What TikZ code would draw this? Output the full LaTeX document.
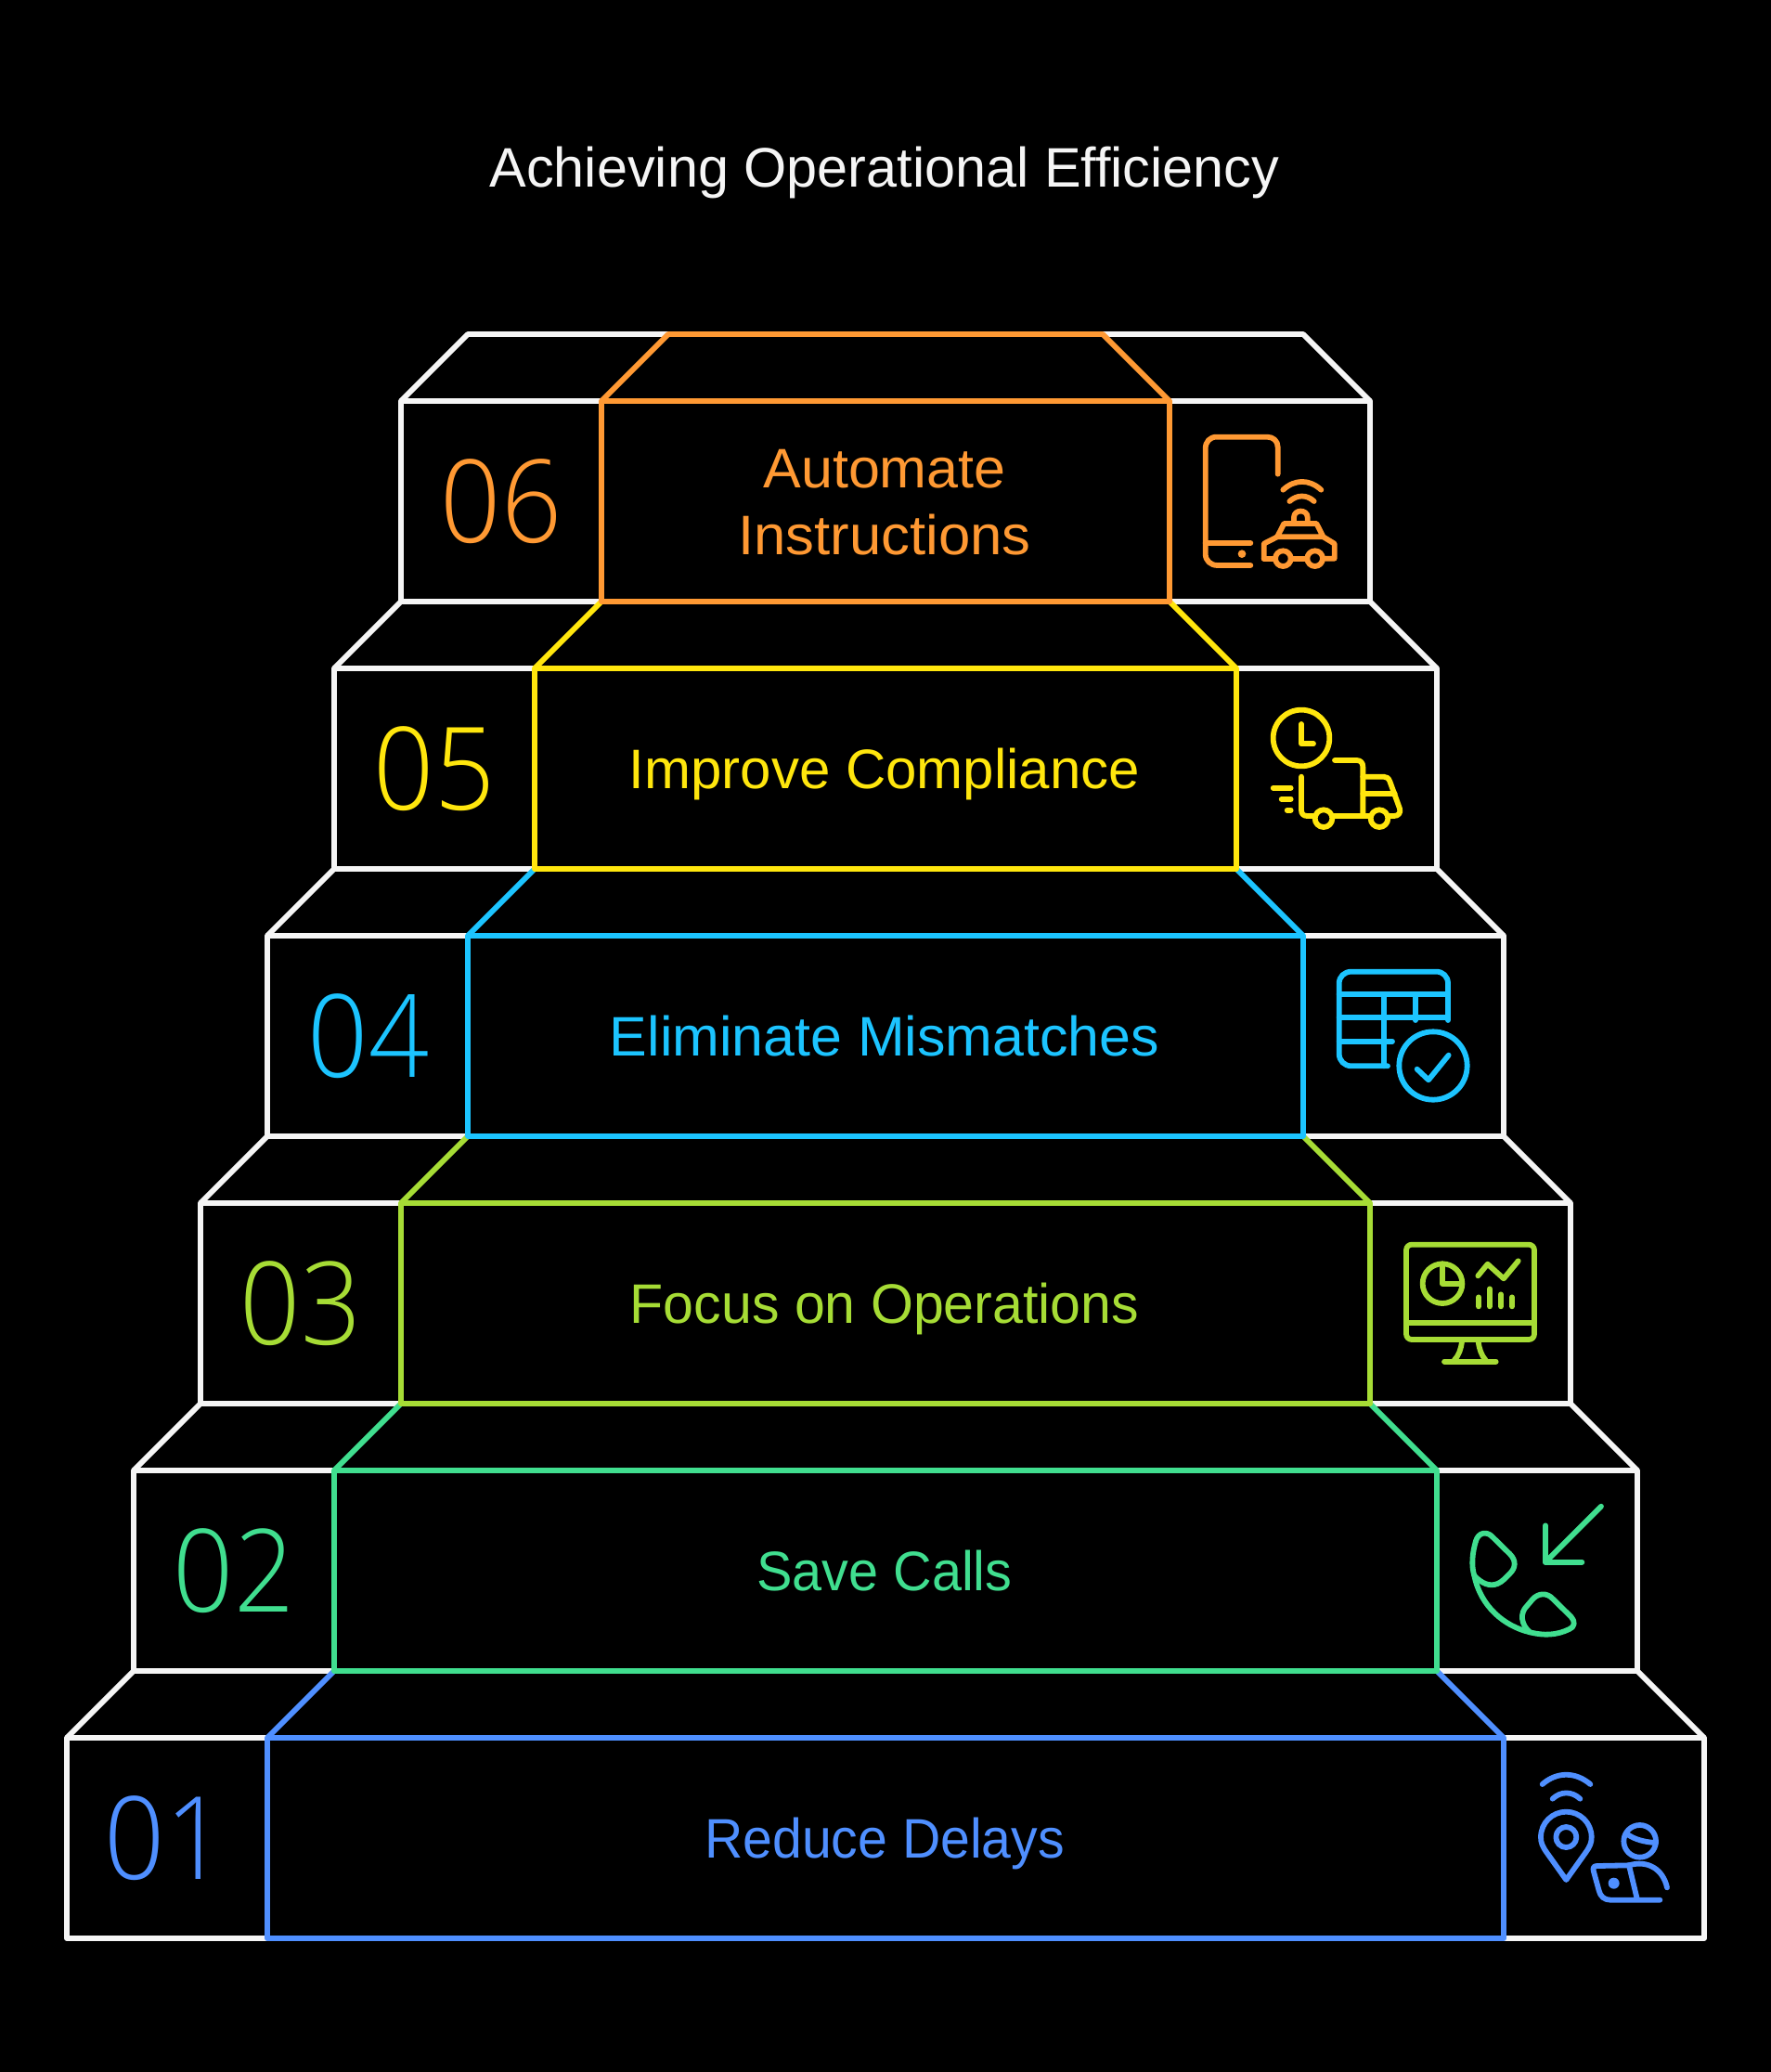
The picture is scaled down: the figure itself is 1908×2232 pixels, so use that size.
\documentclass[tikz,border=0pt]{standalone}
\usepackage{graphicx}
\usepackage{fontspec}
\setmainfont{Liberation Sans}
\newfontfamily\numfont{Open Sans Light}
\definecolor{cone}{HTML}{4F8FFF}
\definecolor{ctwo}{HTML}{40DE8F}
\definecolor{cthree}{HTML}{A6DC35}
\definecolor{cfour}{HTML}{1CC4FF}
\definecolor{cfive}{HTML}{FFE60D}
\definecolor{csix}{HTML}{FF9933}
\definecolor{offwhite}{HTML}{F5F5F5}
\newcommand{\wfit}[2]{\scalebox{#1}[1]{#2}}
\tikzset{
  frame/.style={line width=5.8pt,line join=round},
  iconline/.style={line width=5.8pt,line cap=round,line join=round},
  numlabel/.style={font=\numfont\fontsize{124}{124}\selectfont,anchor=base,inner sep=0pt},
  steplabel/.style={font=\fontsize{60}{72}\selectfont,anchor=base,inner sep=0pt},
  zoomed/.style={x=0.33333pt,y=-0.33333pt,shift={#1}},
}
\begin{document}
\begin{tikzpicture}[x=1pt,y=-1pt]
\fill[black] (0,0) rectangle (1908,2232);
\useasboundingbox (0,0) rectangle (1908,2232);
% white outer boxes
\foreach \k/\t in {1/1872,2/1584,3/1296,4/1008,5/720,6/432}{
  \pgfmathsetmacro{\ho}{882-72*(\k-1)}
  \draw[frame,offwhite] (954-\ho,\t) rectangle (954+\ho,\t+216);
  \draw[frame,offwhite] (954-\ho,\t) -- (954-\ho+72,\t-72) -- (954+\ho-72,\t-72) -- (954+\ho,\t);
}
% coloured inner boxes
\foreach \k/\t/\c in {1/1872/cone,2/1584/ctwo,3/1296/cthree,4/1008/cfour,5/720/cfive,6/432/csix}{
  \pgfmathsetmacro{\hi}{666-72*(\k-1)}
  \draw[frame,\c] (954-\hi,\t) rectangle (954+\hi,\t+216);
  \draw[frame,\c] (954-\hi,\t) -- (954-\hi+72,\t-72) -- (954+\hi-72,\t-72) -- (954+\hi,\t);
}
% title
\node[steplabel,text=offwhite] (title) at (953,201) {\wfit{0.99}{Achieving Operational Efficiency}};
% numbers
\node[numlabel,text=cone] (n1) at (178,2024) {\wfit{0.92}{01}};
\node[numlabel,text=ctwo] (n2) at (252,1736) {\wfit{0.92}{02}};
\node[numlabel,text=cthree] (n3) at (324,1448) {\wfit{0.92}{03}};
\node[numlabel,text=cfour] (n4) at (397,1160) {\wfit{0.92}{04}};
\node[numlabel,text=cfive] (n5) at (468,872) {\wfit{0.92}{05}};
\node[numlabel,text=csix] (n6) at (540,584) {\wfit{0.92}{06}};
% labels
\node[steplabel,text=cone] (l1) at (953,2001) {\wfit{0.953}{Reduce Delays}};
\node[steplabel,text=ctwo] (l2) at (953,1713) {\wfit{0.96}{Save Calls}};
\node[steplabel,text=cthree] (l3) at (953,1425) {\wfit{0.985}{Focus on Operations}};
\node[steplabel,text=cfour] (l4) at (953,1137) {\wfit{1.015}{Eliminate Mismatches}};
\node[steplabel,text=cfive] (l5) at (953,849) {Improve Compliance};
\node[steplabel,text=csix] (l6a) at (953,525) {\wfit{1.017}{Automate}};
\node[steplabel,text=csix] (l6b) at (953,597) {\wfit{1.028}{Instructions}};
% icon 6: phone and car
\begin{scope}[zoomed={(1270pt,-440pt)},iconline,draw=csix]
  \draw (320,212) -- (320,125) .. controls (320,105) and (305,92) .. (285,92) -- (122,92) .. controls (100,92) and (86,108) .. (86,130) -- (86,470) .. controls (86,492) and (103,507) .. (125,507) -- (232,507);
  \draw (86,435) -- (232,435);
  \fill[csix] (204,470) circle [radius=13];
  \draw (337,263) .. controls (375,228) and (422,228) .. (460,263);
  \draw (358,300) .. controls (382,278) and (414,278) .. (437,300);
  \draw (372,370) -- (372,352) .. controls (372,325) and (416,325) .. (416,352) -- (416,370);
  \draw (318,415) -- (340,372) -- (445,372) -- (467,415) -- cycle;
  \draw (275,485) -- (275,437) -- (318,415);
  \draw (467,415) -- (503,437) -- (503,485) -- (465,485);
  \draw (275,485) -- (312,485);
  \draw (362,485) -- (415,485);
  \draw (337,485) circle [radius=25];
  \draw (440,485) circle [radius=25];
\end{scope}
% icon 5: clock and truck
\begin{scope}[zoomed={(1350pt,-740pt)},iconline,draw=cfive]
  \draw (156,165) circle [radius=91];
  \draw (156,120) -- (156,184) -- (195,184);
  \draw (264,237) -- (335,237) .. controls (347,237) and (355,245) .. (355,258) -- (355,410);
  \draw (156,290) -- (156,398) .. controls (156,410) and (163,417) .. (175,417) -- (198,417);
  \draw (258,417) -- (378,417);
  \draw (438,417) -- (455,417) .. controls (470,417) and (478,407) .. (474,393) -- (442,305) .. controls (438,295) and (432,290) .. (422,290) -- (355,290);
  \draw (355,345) -- (458,345);
  \draw (228,425) circle [radius=28];
  \draw (408,425) circle [radius=28];
  \draw (65,326) -- (122,326);
  \draw (92,362) -- (122,362);
  \draw (110,398) -- (122,398);
\end{scope}
% icon 4: table and check
\begin{scope}[zoomed={(1420pt,-1020pt)},iconline,draw=cfour]
  \draw (225,385) -- (108,385) .. controls (85,385) and (68,368) .. (68,345) -- (68,118) .. controls (68,96) and (85,80) .. (108,80) -- (382,80) .. controls (404,80) and (420,96) .. (420,118) -- (420,237);
  \draw (68,153) -- (420,153);
  \draw (68,229) -- (420,229);
  \draw (68,305) -- (240,305);
  \draw (212,153) -- (212,385);
  \draw (315,153) -- (315,237);
  \draw (372,384) circle [radius=110];
  \draw (320,395) -- (357,430) -- (422,350);
\end{scope}
% icon 3: monitor
\begin{scope}[zoomed={(1490pt,-1320pt)},iconline,draw=cthree]
  \draw[rounded corners=6pt] (75,62) rectangle (489,369);
  \draw (75,315) -- (489,315);
  \draw (255,375) .. controls (252,400) and (245,420) .. (230,436);
  \draw (308,375) .. controls (311,400) and (318,420) .. (332,436);
  \draw (198,440) -- (365,440);
  \draw (192,188) circle [radius=64];
  \draw (192,124) -- (192,188) -- (256,188);
  \draw (307,163) -- (338,125) -- (390,172) -- (437,115);
  \draw (309,232) -- (309,262);
  \draw (345,205) -- (345,262);
  \draw (381,223) -- (381,262);
  \draw (417,232) -- (417,262);
\end{scope}
% icon 2: phone and arrow
\begin{scope}[zoomed={(1560pt,-1600pt)},iconline,draw=ctwo]
  \draw (495,68) -- (315,248);
  \draw (315,130) -- (315,248) -- (433,248);
  \draw (90,180) .. controls (98,152) and (125,148) .. (142,165) -- (200,222) .. controls (222,244) and (218,268) .. (200,285) .. controls (185,300) and (175,312) .. (160,318) .. controls (135,328) and (110,318) .. (85,292);
  \draw (90,180) .. controls (78,220) and (75,260) .. (85,292) .. controls (105,390) and (180,455) .. (265,475);
  \draw (265,475) .. controls (235,450) and (232,412) .. (255,390) -- (272,370) .. controls (290,348) and (320,345) .. (340,368) -- (398,425) .. controls (412,440) and (410,458) .. (392,465) .. controls (350,485) and (310,486) .. (265,475);
\end{scope}
% icon 1: pin and person
\begin{scope}[zoomed={(1640pt,-1890pt)},iconline,draw=cone]
  \draw (65,96) .. controls (112,55) and (172,55) .. (220,96);
  \draw (98,143) .. controls (125,118) and (160,118) .. (187,143);
  \draw (142,405) -- (80,318) .. controls (65,297) and (60,285) .. (60,267) .. controls (60,220) and (98,185) .. (142,185) .. controls (186,185) and (224,220) .. (224,267) .. controls (224,285) and (219,297) .. (204,318) -- cycle;
  \draw (142,267) circle [radius=33];
  \draw (380,280) circle [radius=52];
  \draw (340,258) .. controls (365,275) and (395,283) .. (432,285);
  \draw (345,358) .. controls (405,340) and (455,370) .. (468,430);
  \draw (445,470) -- (285,470) .. controls (265,470) and (252,458) .. (248,440) -- (230,375) .. controls (228,365) and (232,360) .. (242,360) -- (345,358) -- (372,470);
  \fill[cone] (296,416) circle [radius=18];
\end{scope}
\end{tikzpicture}
\end{document}
